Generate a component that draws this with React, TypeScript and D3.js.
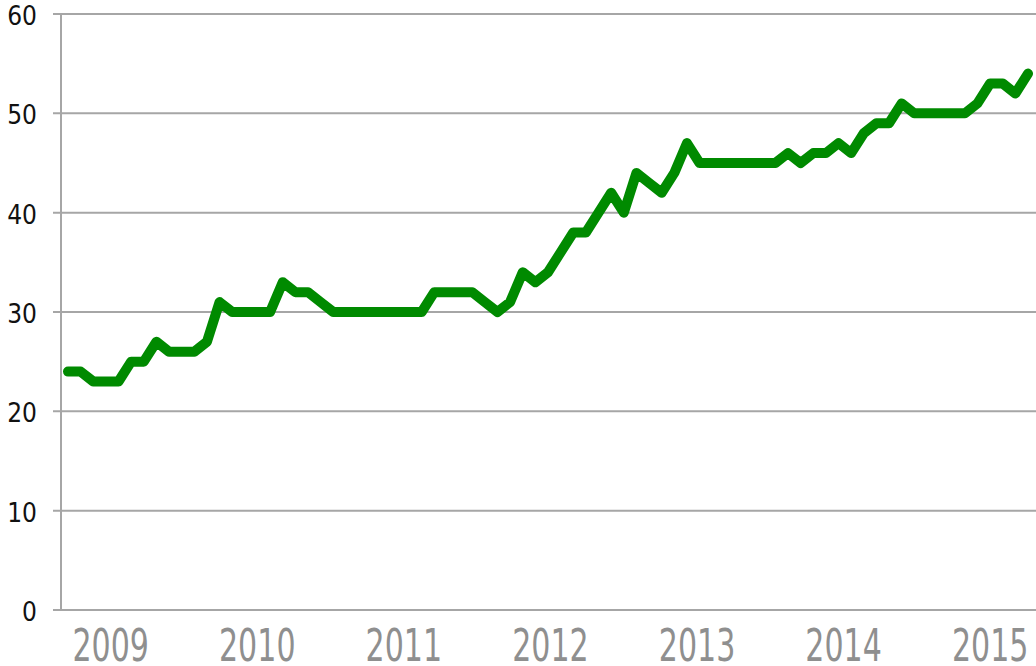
import React from "react";
import * as d3 from "d3";

// Series values, one per (roughly monthly) observation, late 2008 → spring 2015
const values: number[] = [
  24, 24, 23, 23, 23, 25, 25, 27, 26, 26,
  26, 27, 31, 30, 30, 30, 30, 33, 32, 32,
  31, 30, 30, 30, 30, 30, 30, 30, 30, 32,
  32, 32, 32, 31, 30, 31, 34, 33, 34, 36,
  38, 38, 40, 42, 40, 44, 43, 42, 44, 47,
  45, 45, 45, 45, 45, 45, 45, 46, 45, 46,
  46, 47, 46, 48, 49, 49, 51, 50, 50, 50,
  50, 50, 51, 53, 53, 52, 54,
];

// Time span covered by the series (fractional years)
const firstObservation = 2008.709;
const lastObservation = 2015.258;

// Axis labels
const yearLabels: number[] = [2009, 2010, 2011, 2012, 2013, 2014, 2015];
const yTicks: number[] = [0, 10, 20, 30, 40, 50, 60];

const W = 1036;
const H = 666;

export default function App() {
  const plotLeft = 61;
  const plotRight = W;
  const x = d3
    .scaleLinear()
    .domain([firstObservation, lastObservation])
    .range([68, 1028]);
  const y = d3.scaleLinear().domain([0, 60]).range([610, 14]);

  const idxToYear = d3
    .scaleLinear()
    .domain([0, values.length - 1])
    .range([firstObservation, lastObservation]);

  const line = d3
    .line<number>()
    .x((_, i) => x(idxToYear(i)))
    .y((d) => y(d));

  return (
    <svg
      width={W}
      height={H}
      style={{ position: "absolute", left: 0, top: 0, background: "#fff" }}
    >
      {yTicks.map((t) => (
        <g key={t}>
          <line
            x1={53}
            x2={plotRight}
            y1={y(t)}
            y2={y(t)}
            stroke="#a6a6a6"
            strokeWidth={2}
          />
          <text
            x={37}
            y={y(t) + 11}
            textAnchor="end"
            fontFamily="'DejaVu Sans Condensed', 'DejaVu Sans', sans-serif"
            fontSize={26}
            fill="#111"
          >
            {t}
          </text>
        </g>
      ))}
      <line
        x1={plotLeft}
        x2={plotLeft}
        y1={y(60)}
        y2={y(0)}
        stroke="#a6a6a6"
        strokeWidth={2}
      />
      {yearLabels.map((yr) => (
        <text
          key={yr}
          transform={`translate(${x(yr)},661) scale(0.76,1)`}
          textAnchor="middle"
          fontFamily="'DejaVu Sans Condensed', 'DejaVu Sans', sans-serif"
          fontSize={44}
          fill="#8f8f8f"
        >
          {yr}
        </text>
      ))}
      <path
        d={line(values) || ""}
        fill="none"
        stroke="#008a00"
        strokeWidth={10}
        strokeLinejoin="round"
        strokeLinecap="round"
      />
    </svg>
  );
}
